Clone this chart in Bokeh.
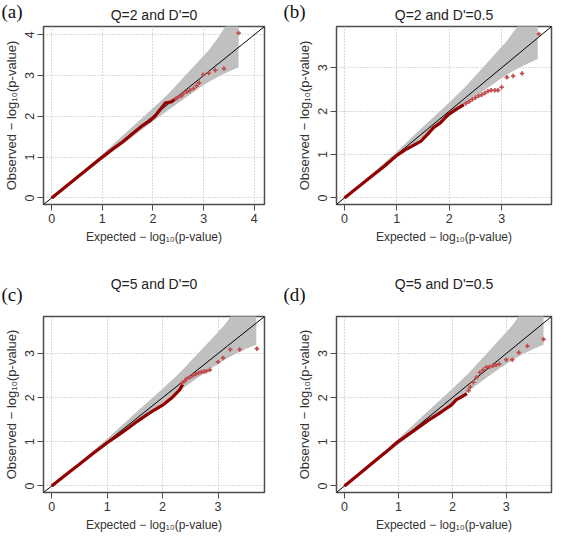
from bokeh.plotting import figure
from bokeh.layouts import gridplot
from bokeh.models import Range1d, FixedTicker, Label
from bokeh.embed import file_html
from bokeh.resources import INLINE

# ---------------- data ----------------
titles = ["Q=2 and D'=0", "Q=2 and D'=0.5", "Q=5 and D'=0", "Q=5 and D'=0.5"]
tags = ["(a)", "(b)", "(c)", "(d)"]
axis_max = [4.04, 3.8, 3.69, 3.69]
tick_vals = [[0, 1, 2, 3, 4], [0, 1, 2, 3], [0, 1, 2, 3], [0, 1, 2, 3]]
x_label = "Expected \u2212 log\u2081\u2080(p-value)"
y_label = "Observed \u2212 log\u2081\u2080(p-value)"

# 95% envelope (same sample size in all panels)
band_x = [0, 0.5, 1.0, 1.5, 2.0, 2.3, 2.6, 2.9, 3.1, 3.3, 3.5, 3.69]
band_hi = [0, 0.53, 1.07, 1.64, 2.2, 2.55, 2.95, 3.35, 3.62, 3.95, 4.35, 4.8]
band_lo = [0, 0.47, 0.94, 1.41, 1.88, 2.15, 2.42, 2.68, 2.84, 2.98, 3.1, 3.2]

# (a) Q=2, D'=0
a_dense_x = [0, 0.25, 0.5, 0.75, 1.0, 1.25, 1.4, 1.6, 1.8, 1.95, 2.05, 2.15, 2.25, 2.35, 2.45]
a_dense_y = [0, 0.25, 0.5, 0.75, 1.0, 1.24, 1.37, 1.58, 1.78, 1.9, 2.02, 2.18, 2.33, 2.35, 2.43]
a_tail_x = [2.45, 2.5, 2.56, 2.6, 2.67, 2.73, 2.8, 2.86, 2.91, 2.99, 3.1, 3.23, 3.4, 3.69]
a_tail_y = [2.43, 2.47, 2.5, 2.56, 2.6, 2.64, 2.68, 2.75, 2.82, 3.02, 3.06, 3.13, 3.17, 4.04]

# (b) Q=2, D'=0.5
b_dense_x = [0, 0.25, 0.5, 0.75, 1.0, 1.15, 1.3, 1.46, 1.58, 1.7, 1.83, 1.98, 2.13, 2.28]
b_dense_y = [0, 0.24, 0.48, 0.72, 0.98, 1.1, 1.2, 1.31, 1.46, 1.62, 1.73, 1.92, 2.04, 2.15]
b_tail_x = [2.32, 2.38, 2.44, 2.5, 2.56, 2.62, 2.68, 2.74, 2.8, 2.87, 2.93, 3.0, 3.1, 3.22, 3.39, 3.71]
b_tail_y = [2.18, 2.22, 2.27, 2.31, 2.35, 2.38, 2.42, 2.46, 2.48, 2.48, 2.48, 2.55, 2.78, 2.81, 2.87, 3.78]

# (c) Q=5, D'=0
c_dense_x = [0, 0.25, 0.5, 0.75, 1.0, 1.2, 1.4, 1.55, 1.7, 1.85, 2.0, 2.1, 2.18, 2.25, 2.31, 2.36]
c_dense_y = [0, 0.25, 0.49, 0.74, 0.98, 1.15, 1.33, 1.47, 1.6, 1.72, 1.83, 1.93, 2.01, 2.1, 2.18, 2.3]
c_tail_x = [2.36, 2.4, 2.43, 2.49, 2.55, 2.6, 2.65, 2.7, 2.75, 2.79, 2.85, 3.0, 3.09, 3.22, 3.39, 3.7]
c_tail_y = [2.34, 2.38, 2.42, 2.46, 2.5, 2.53, 2.56, 2.58, 2.59, 2.6, 2.63, 2.81, 2.9, 3.09, 3.09, 3.11]

# (d) Q=5, D'=0.5
d_dense_x = [0, 0.25, 0.49, 0.75, 0.99, 1.26, 1.56, 1.8, 1.98, 2.07, 2.16, 2.27]
d_dense_y = [0, 0.25, 0.49, 0.75, 1.0, 1.23, 1.49, 1.68, 1.83, 1.95, 2.01, 2.09]
d_tail_x = [2.3, 2.33, 2.39, 2.45, 2.51, 2.57, 2.63, 2.69, 2.75, 2.81, 2.87, 3.0, 3.11, 3.23, 3.39, 3.69]
d_tail_y = [2.16, 2.24, 2.35, 2.46, 2.57, 2.63, 2.69, 2.7, 2.72, 2.74, 2.76, 2.86, 2.86, 3.02, 3.17, 3.32]

dense = [(a_dense_x, a_dense_y), (b_dense_x, b_dense_y), (c_dense_x, c_dense_y), (d_dense_x, d_dense_y)]
tails = [(a_tail_x, a_tail_y), (b_tail_x, b_tail_y), (c_tail_x, c_tail_y), (d_tail_x, d_tail_y)]

# ---------------- layout / style ----------------
SANS = "Liberation Sans"
# (frame_w, frame_h, border left, right, top, bottom)
geom = [
    (221, 178, 39, 19, 20, 65),
    (215, 178, 53, 4, 20, 65),
    (221, 176, 41, 19, 41, 46),
    (215, 176, 53, 4, 41, 46),
]
# tag position in canvas pixels (from the canvas' top-left corner) and the
# side panel that hosts it (a panel with spare room, so nothing is clipped)
tag_pos = [(1, 0), (0, 0), (1, 14), (0, 14)]
tag_side = ["below", "below", "above", "above"]


def make_panel(i):
    fw, fh, bl, br, bt, bb = geom[i]
    m = axis_max[i]
    lo, hi = -0.04 * m, 1.04 * m
    p = figure(frame_width=fw, frame_height=fh,
               min_border_left=bl, min_border_right=br,
               min_border_top=bt, min_border_bottom=bb,
               x_range=Range1d(lo, hi), y_range=Range1d(lo, hi),
               toolbar_location=None, output_backend="svg", title=titles[i])
    p.background_fill_color = "white"
    p.border_fill_color = "white"
    p.outline_line_color = "#4d4d4d"
    p.outline_line_width = 1.5

    p.title.align = "center"
    p.title.text_font = SANS
    p.title.text_font_size = "14px"
    p.title.text_font_style = "normal"
    p.title.text_color = "#222222"
    p.title.standoff = 8

    for ax in (p.xaxis[0], p.yaxis[0]):
        ax.ticker = FixedTicker(ticks=tick_vals[i], minor_ticks=[])
        ax.axis_line_color = None
        ax.major_tick_out = 6
        ax.major_tick_in = 0
        ax.minor_tick_out = 0
        ax.minor_tick_in = 0
        ax.major_tick_line_color = "#4d4d4d"
        ax.major_label_text_font = SANS
        ax.major_label_text_color = "#333333"
        ax.major_label_standoff = 3
        ax.axis_label_text_font = SANS
        ax.axis_label_text_font_style = "normal"
        ax.axis_label_text_color = "#333333"
        ax.axis_label_standoff = 4
    p.xaxis.major_label_text_font_size = "12.5px"
    p.yaxis.major_label_text_font_size = "12.5px"
    p.xaxis.axis_label_text_font_size = "12px"
    p.yaxis.axis_label_text_font_size = "13px"
    p.xaxis.axis_label = x_label
    p.yaxis.axis_label = y_label
    p.yaxis.major_label_orientation = "vertical"

    for g in (p.xgrid[0], p.ygrid[0]):
        g.grid_line_color = "#B5B5B5"
        g.grid_line_dash = "1 2"
        g.grid_line_width = 1

    # envelope
    p.patch(band_x + band_x[::-1], band_hi + band_lo[::-1],
            fill_color="#C0C0C0", line_color=None)
    # y = x reference
    p.line([lo, hi], [lo, hi], line_color="black", line_width=1)
    # observed points
    dx, dy = dense[i]
    p.line(dx, dy, line_color="#930000", line_width=3.2)
    tx, ty = tails[i]
    p.scatter(tx, ty, marker="cross", size=4.5, line_width=1.6, line_color="#C24A4A")

    # panel tag
    lx, ly = tag_pos[i]
    p.add_layout(Label(x=lx, y=ly, x_units="canvas", y_units="canvas",
                       text=tags[i], text_font="Liberation Serif", text_font_size="19px",
                       text_baseline="top", text_align="left", text_color="#111111"),
                 tag_side[i])
    return p


panels = [make_panel(i) for i in range(4)]
grid = gridplot([[panels[0], panels[1]], [panels[2], panels[3]]], toolbar_location=None)

open("out.html", "w").write(file_html(grid, INLINE))
